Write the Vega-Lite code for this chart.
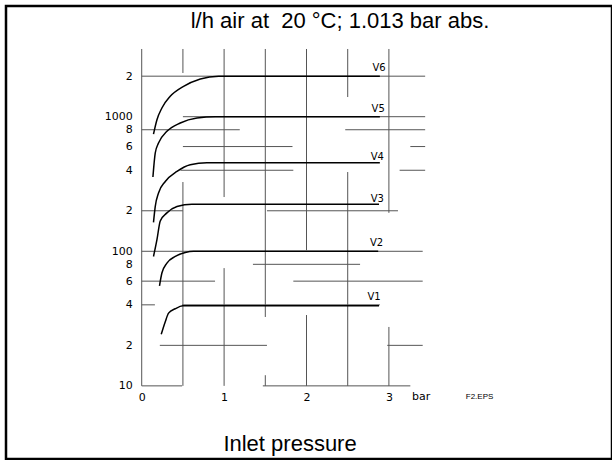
{
  "$schema": "https://vega.github.io/schema/vega-lite/v6.json",
  "width": 606,
  "height": 453,
  "autosize": {"type": "none"},
  "padding": {"left": 6, "top": 6, "right": 0, "bottom": 1},
  "background": "white",
  "config": {
    "view": {"stroke": "black", "strokeWidth": 2.5},
    "font": "DejaVu Sans"
  },
  "datasets": {
    "curves": [
      {"series": "V6", "pressure": 0.143, "flow": 743},
      {"series": "V6", "pressure": 0.185, "flow": 950},
      {"series": "V6", "pressure": 0.245, "flow": 1161},
      {"series": "V6", "pressure": 0.346, "flow": 1416},
      {"series": "V6", "pressure": 0.508, "flow": 1680},
      {"series": "V6", "pressure": 0.711, "flow": 1907},
      {"series": "V6", "pressure": 0.933, "flow": 2000},
      {"series": "V6", "pressure": 2.89, "flow": 2000},
      {"series": "V5", "pressure": 0.136, "flow": 356},
      {"series": "V5", "pressure": 0.164, "flow": 537},
      {"series": "V5", "pressure": 0.204, "flow": 637},
      {"series": "V5", "pressure": 0.306, "flow": 778},
      {"series": "V5", "pressure": 0.468, "flow": 898},
      {"series": "V5", "pressure": 0.671, "flow": 978},
      {"series": "V5", "pressure": 0.893, "flow": 1000},
      {"series": "V5", "pressure": 2.89, "flow": 1000},
      {"series": "V4", "pressure": 0.143, "flow": 164},
      {"series": "V4", "pressure": 0.164, "flow": 215},
      {"series": "V4", "pressure": 0.204, "flow": 271},
      {"series": "V4", "pressure": 0.286, "flow": 330},
      {"series": "V4", "pressure": 0.428, "flow": 392},
      {"series": "V4", "pressure": 0.589, "flow": 440},
      {"series": "V4", "pressure": 0.792, "flow": 455},
      {"series": "V4", "pressure": 2.89, "flow": 455},
      {"series": "V3", "pressure": 0.143, "flow": 91.5},
      {"series": "V3", "pressure": 0.185, "flow": 122},
      {"series": "V3", "pressure": 0.225, "flow": 168},
      {"series": "V3", "pressure": 0.306, "flow": 193},
      {"series": "V3", "pressure": 0.428, "flow": 215},
      {"series": "V3", "pressure": 0.61, "flow": 224},
      {"series": "V3", "pressure": 2.88, "flow": 224},
      {"series": "V2", "pressure": 0.216, "flow": 55.4},
      {"series": "V2", "pressure": 0.245, "flow": 68.9},
      {"series": "V2", "pressure": 0.306, "flow": 81.7},
      {"series": "V2", "pressure": 0.407, "flow": 91.5},
      {"series": "V2", "pressure": 0.529, "flow": 98},
      {"series": "V2", "pressure": 0.629, "flow": 100},
      {"series": "V2", "pressure": 2.87, "flow": 100},
      {"series": "V1", "pressure": 0.237, "flow": 24.2},
      {"series": "V1", "pressure": 0.286, "flow": 30},
      {"series": "V1", "pressure": 0.326, "flow": 34.7},
      {"series": "V1", "pressure": 0.407, "flow": 37.4},
      {"series": "V1", "pressure": 0.5, "flow": 39.3},
      {"series": "V1", "pressure": 2.88, "flow": 39.3}
    ],
    "grid": [
      {"p1": 0, "p2": 0, "f1": 3184, "f2": 10},
      {"p1": 0.5, "p2": 0.5, "f1": 3184, "f2": 2112},
      {"p1": 0.5, "p2": 0.5, "f1": 327, "f2": 10},
      {"p1": 1, "p2": 1, "f1": 3184, "f2": 253},
      {"p1": 1, "p2": 1, "f1": 75, "f2": 10},
      {"p1": 1.5, "p2": 1.5, "f1": 3184, "f2": 32.5},
      {"p1": 1.5, "p2": 1.5, "f1": 12, "f2": 10},
      {"p1": 2, "p2": 2, "f1": 3184, "f2": 102},
      {"p1": 2, "p2": 2, "f1": 33.6, "f2": 10},
      {"p1": 2.5, "p2": 2.5, "f1": 3184, "f2": 1400},
      {"p1": 2.5, "p2": 2.5, "f1": 388, "f2": 10},
      {"p1": 3, "p2": 3, "f1": 3184, "f2": 193},
      {"p1": 3, "p2": 3, "f1": 27.4, "f2": 10},
      {"p1": 0, "p2": 3.44, "f1": 2000, "f2": 2000},
      {"p1": 0.5, "p2": 3.44, "f1": 1000, "f2": 1000},
      {"p1": 0, "p2": 1.19, "f1": 800, "f2": 800},
      {"p1": 2.47, "p2": 3.44, "f1": 800, "f2": 800},
      {"p1": 0.5, "p2": 1.83, "f1": 600, "f2": 600},
      {"p1": 3.26, "p2": 3.44, "f1": 600, "f2": 600},
      {"p1": 0.47, "p2": 1.84, "f1": 400, "f2": 400},
      {"p1": 3.13, "p2": 3.44, "f1": 400, "f2": 400},
      {"p1": 0, "p2": 0.5, "f1": 200, "f2": 200},
      {"p1": 1.52, "p2": 3.11, "f1": 200, "f2": 200},
      {"p1": 0, "p2": 3.41, "f1": 100, "f2": 100},
      {"p1": 1.35, "p2": 2.65, "f1": 80, "f2": 80},
      {"p1": 0, "p2": 0.89, "f1": 60, "f2": 60},
      {"p1": 1.84, "p2": 3.41, "f1": 60, "f2": 60},
      {"p1": 0, "p2": 0.16, "f1": 40, "f2": 40},
      {"p1": 0.49, "p2": 2.89, "f1": 40, "f2": 40},
      {"p1": 0.22, "p2": 1.52, "f1": 20, "f2": 20},
      {"p1": 2.98, "p2": 3.41, "f1": 20, "f2": 20},
      {"p1": 0, "p2": 0.49, "f1": 10, "f2": 10},
      {"p1": 1.47, "p2": 3.26, "f1": 10, "f2": 10}
    ],
    "labels": [
      {"series": "V6", "pressure": 2.88, "flow": 2312},
      {"series": "V5", "pressure": 2.87, "flow": 1141},
      {"series": "V4", "pressure": 2.86, "flow": 499},
      {"series": "V3", "pressure": 2.86, "flow": 245},
      {"series": "V2", "pressure": 2.85, "flow": 114.7},
      {"series": "V1", "pressure": 2.82, "flow": 46}
    ],
    "notes": [
      {"role": "title", "text": "l/h air at \u00a020 °C; 1.013 bar abs.", "pressure": 2.407, "flow": 4538},
      {"role": "title", "text": "Inlet pressure", "pressure": 1.8, "flow": 3.278},
      {"role": "unit", "text": "bar", "pressure": 3.39, "flow": 8.27},
      {"role": "file", "text": "F2.EPS", "pressure": 4.1, "flow": 8.27}
    ]
  },
  "layer": [
    {
      "data": {"name": "grid"},
      "mark": {"type": "rule", "color": "#555555", "strokeWidth": 1},
      "encoding": {
        "x": {
          "field": "p1", "type": "quantitative", "title": null,
          "scale": {"domain": [-1.647, 5.7075], "nice": false, "zero": false},
          "axis": {
            "orient": "bottom", "offset": -73, "values": [0, 1, 2, 3], "format": "d",
            "domain": false, "ticks": false, "tickSize": 0, "grid": false,
            "labelPadding": 5, "labelFont": "DejaVu Sans", "labelFontSize": 11,
            "labelColor": "black", "labelFlush": false, "labelOverlap": false
          }
        },
        "x2": {"field": "p2"},
        "y": {
          "field": "f1", "type": "quantitative", "title": null,
          "scale": {"type": "log", "domain": [2.862, 6644], "nice": false},
          "axis": {
            "orient": "left", "offset": -135.7,
            "values": [10, 20, 40, 60, 80, 100, 200, 400, 600, 800, 1000, 2000],
            "format": "d",
            "labelExpr": "indexof(['10','100','1000'], datum.label) >= 0 ? datum.label : slice(datum.label, 0, 1)",
            "domain": false, "ticks": false, "tickSize": 0, "grid": false,
            "labelPadding": 9.5, "labelFont": "DejaVu Sans", "labelFontSize": 11,
            "labelColor": "black", "labelFlush": false, "labelOverlap": false,
            "labelBaseline": "middle"
          }
        },
        "y2": {"field": "f2"}
      }
    },
    {
      "data": {"name": "curves"},
      "mark": {"type": "line", "color": "black", "strokeWidth": 1.5, "interpolate": "monotone"},
      "encoding": {
        "x": {"field": "pressure", "type": "quantitative", "title": null, "scale": {"domain": [-1.647, 5.7075], "nice": false, "zero": false}},
        "y": {"field": "flow", "type": "quantitative", "title": null, "scale": {"type": "log", "domain": [2.862, 6644], "nice": false}},
        "detail": {"field": "series"}
      }
    },
    {
      "data": {"name": "labels"},
      "mark": {"type": "text", "font": "DejaVu Sans", "fontSize": 10, "color": "black", "align": "center", "baseline": "middle"},
      "encoding": {
        "x": {"field": "pressure", "type": "quantitative", "title": null, "scale": {"domain": [-1.647, 5.7075], "nice": false, "zero": false}},
        "y": {"field": "flow", "type": "quantitative", "title": null, "scale": {"type": "log", "domain": [2.862, 6644], "nice": false}},
        "text": {"field": "series"}
      }
    },
    {
      "data": {"name": "notes"},
      "transform": [{"filter": "datum.role == 'title'"}],
      "mark": {"type": "text", "font": "Liberation Sans", "fontSize": 22, "color": "black", "align": "center", "baseline": "alphabetic"},
      "encoding": {
        "x": {"field": "pressure", "type": "quantitative", "title": null, "scale": {"domain": [-1.647, 5.7075], "nice": false, "zero": false}},
        "y": {"field": "flow", "type": "quantitative", "title": null, "scale": {"type": "log", "domain": [2.862, 6644], "nice": false}},
        "text": {"field": "text"}
      }
    },
    {
      "data": {"name": "notes"},
      "transform": [{"filter": "datum.role == 'unit'"}],
      "mark": {"type": "text", "font": "DejaVu Sans", "fontSize": 11, "color": "black", "align": "center", "baseline": "middle"},
      "encoding": {
        "x": {"field": "pressure", "type": "quantitative", "title": null, "scale": {"domain": [-1.647, 5.7075], "nice": false, "zero": false}},
        "y": {"field": "flow", "type": "quantitative", "title": null, "scale": {"type": "log", "domain": [2.862, 6644], "nice": false}},
        "text": {"field": "text"}
      }
    },
    {
      "data": {"name": "notes"},
      "transform": [{"filter": "datum.role == 'file'"}],
      "mark": {"type": "text", "font": "Liberation Sans", "fontSize": 8, "color": "black", "align": "center", "baseline": "middle"},
      "encoding": {
        "x": {"field": "pressure", "type": "quantitative", "title": null, "scale": {"domain": [-1.647, 5.7075], "nice": false, "zero": false}},
        "y": {"field": "flow", "type": "quantitative", "title": null, "scale": {"type": "log", "domain": [2.862, 6644], "nice": false}},
        "text": {"field": "text"}
      }
    }
  ]
}
